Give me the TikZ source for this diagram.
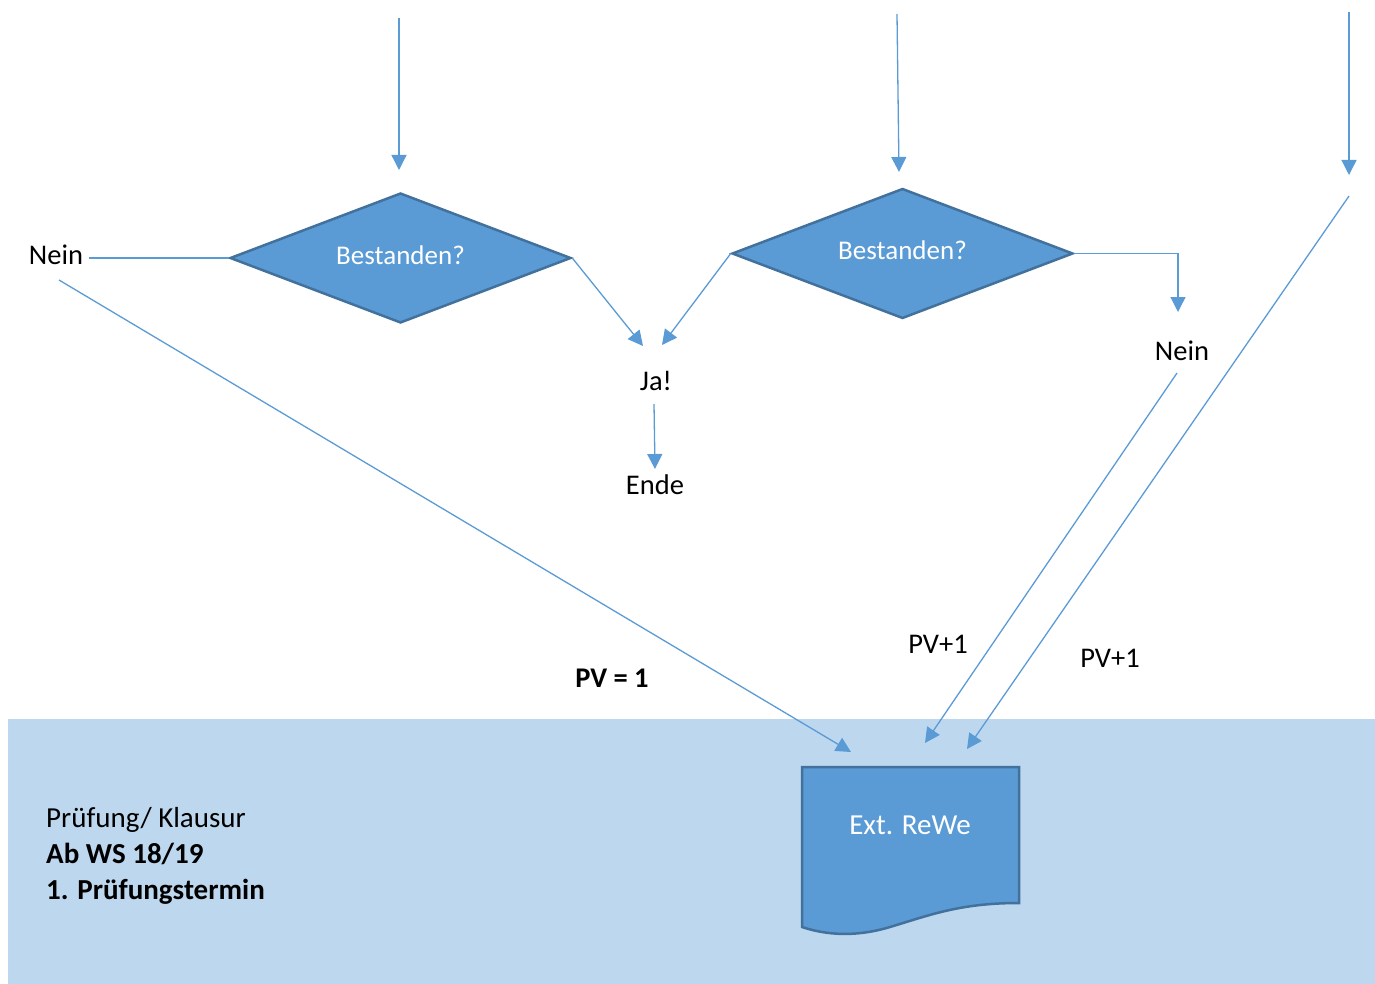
\documentclass[tikz,border=0pt]{standalone}
\usepackage{fontspec}
\setmainfont{Carlito}
\usetikzlibrary{shapes.geometric,arrows.meta}
\definecolor{fillblue}{HTML}{5B9BD5}
\definecolor{edgeblue}{HTML}{41719C}
\definecolor{bgblue}{HTML}{BDD7EE}
\begin{document}
\begin{tikzpicture}[x=1pt,y=-1pt,
  conn/.style={draw=fillblue,line width=1.3pt},
  arr/.style={conn,-{Triangle[length=15pt,width=15pt]}},
  dec/.style={diamond,fill=fillblue,draw=edgeblue,line width=2.5pt,minimum width=341pt,minimum height=130pt,inner sep=0pt,aspect=2.6,text=white,font=\fontsize{27}{32}\selectfont},
  lbl/.style={font=\fontsize{28.5}{34}\selectfont,inner sep=2pt}]
\useasboundingbox (0,0) rectangle (1375,984);
% background band
\fill[bgblue] (8,719) rectangle (1375,984);
% diamonds
\node[dec] (d1) at (400.5,258) {\raisebox{6pt}{Bestanden?}};
\node[dec] (d2) at (902.5,253.5) {\raisebox{6pt}{Bestanden?}};
% labels
\node[lbl] (nein1) at (56,255) {Nein};
\node[lbl] (ja) at (656,381) {Ja!};
\node[lbl] (ende) at (655,485) {Ende};
\node[lbl] (nein2) at (1182,351) {Nein};
\node[lbl] (pv1a) at (938,644) {PV+1};
\node[lbl] (pv1b) at (1110,658) {PV+1};
\node[lbl,font=\fontsize{28.5}{34}\selectfont\bfseries] (pv) at (612,678) {PV = 1};
\node[lbl,anchor=west,align=left,font=\fontsize{29}{36}\selectfont] (info) at (44,856)
  {Prüfung/ Klausur\\\textbf{Ab WS 18/19}\\\textbf{1. Prüfungstermin}};
% document shape
\filldraw[fill=fillblue,draw=edgeblue,line width=2.5pt]
  (802,767) -- (1019,767) -- (1019,903)
  .. controls (960,903) and (930,915) .. (890,927)
  .. controls (850,939) and (820,933) .. (802,927) -- cycle;
\node[lbl,text=white,font=\fontsize{29}{34}\selectfont] (doc) at (910,825) {Ext. ReWe};
% coordinates for free ends
\coordinate (s1) at (399,18);
\coordinate (t1) at (399,170);
\coordinate (s2) at (897,14);
\coordinate (t2) at (899,172);
\coordinate (s3) at (1349,12);
\coordinate (t3) at (1349,175);
\coordinate (s4) at (59,280);
\coordinate (t4) at (851,752);
\coordinate (t5) at (643,346);
\coordinate (t6) at (662,345);
\coordinate (s7) at (654,404);
\coordinate (t7) at (655,469);
\coordinate (t8) at (1178,312);
\coordinate (s9) at (1177,373);
\coordinate (t9) at (925,743);
\coordinate (s10) at (1349,196);
\coordinate (t10) at (967,749);
% connectors
\draw[arr] (s1) -- (t1);
\draw[arr] (s2) -- (t2);
\draw[arr] (s3) -- (t3);
\draw[conn,shorten <=4pt] (nein1.east |- d1.west) -- (d1.west);
\draw[arr] (s4) -- (t4);
\draw[arr] (d1.east) -- (t5);
\draw[arr] (d2.west) -- (t6);
\draw[arr] (s7) -- (t7);
\draw[arr] (d2.east) -| (t8);
\draw[arr] (s9) -- (t9);
\draw[arr] (s10) -- (t10);
\end{tikzpicture}
\end{document}
